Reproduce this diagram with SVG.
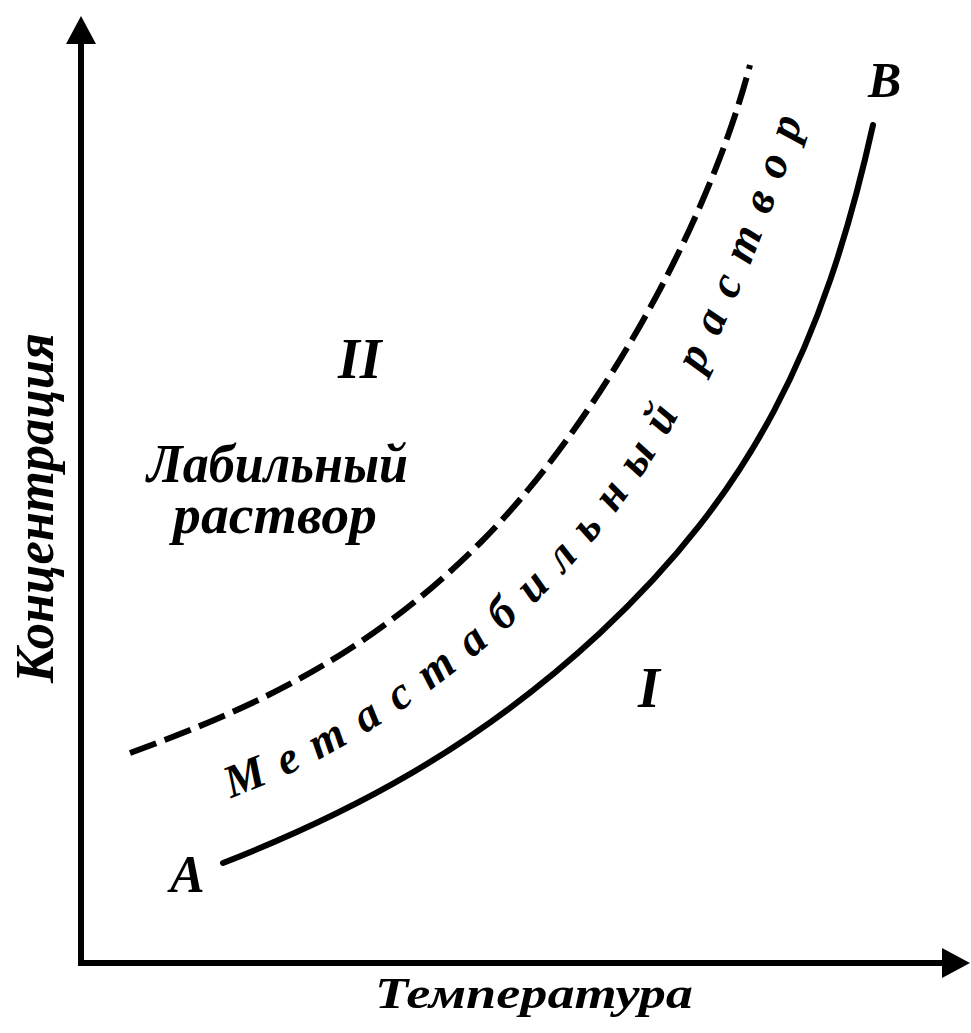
<svg xmlns="http://www.w3.org/2000/svg" width="971" height="1033" viewBox="0 0 971 1033">
  <style>
    .lbl { font-family: "Liberation Serif", "DejaVu Serif", serif; font-weight: bold; font-style: italic; fill: #000; }
    .axis { stroke: #000; stroke-width: 6; fill: none; }
    .curve { stroke: #000; stroke-width: 6; fill: none; stroke-linecap: round; }
    .dashed { stroke-dasharray: 28 9; stroke-linecap: butt; }
  </style>
  <defs>
    <marker id="arrow" viewBox="0 0 28 30" markerWidth="28" markerHeight="30" refX="2" refY="15" orient="auto" markerUnits="userSpaceOnUse">
      <path d="M0,0 L28,15 L0,30 Z" fill="#000"/>
    </marker>
    <path id="metaPath" d="M226,799 C332,765 476,673 578,558 C656,471 732,342 810,98"/>
  </defs>
  <rect width="971" height="1033" fill="#fff"/>

  <g id="axes">
    <path class="axis" d="M81,966 L81,42" marker-end="url(#arrow)"/>
    <path class="axis" d="M78,963 L944,963" marker-end="url(#arrow)"/>
  </g>

  <g id="connectors">
    <path id="curve-AB" class="curve" d="M223,863 C348,814 475,749 600,633 C750,493 823,350 873,125"/>
    <path id="curve-labile" class="curve dashed" d="M130,753 C247,710 363,660 480,543 C590,433 705,236 750,65"/>
  </g>

  <g id="axis-labels">
    <text class="lbl" font-size="54" textLength="350" lengthAdjust="spacingAndGlyphs" transform="translate(53,683) rotate(-90)">Концентрация</text>
    <text class="lbl" font-size="45" x="375" y="1008" textLength="318" lengthAdjust="spacingAndGlyphs">Температура</text>
  </g>

  <g id="point-A"><text class="lbl" font-size="52" x="170" y="892">A</text></g>
  <g id="point-B"><text class="lbl" font-size="50" x="868" y="97">B</text></g>

  <g id="region-II">
    <text class="lbl" font-size="56" x="338" y="378">II</text>
    <text class="lbl" font-size="54" x="147" y="482" textLength="261" lengthAdjust="spacingAndGlyphs">Лабильный</text>
    <text class="lbl" font-size="54" x="173" y="533" textLength="204" lengthAdjust="spacingAndGlyphs">раствор</text>
  </g>

  <g id="region-I">
    <text class="lbl" font-size="56" x="638" y="707">I</text>
  </g>

  <g id="region-meta">
    <text class="lbl" font-size="46" letter-spacing="17.5"><textPath href="#metaPath" startOffset="5">Метастабильный раствор</textPath></text>
  </g>
</svg>
